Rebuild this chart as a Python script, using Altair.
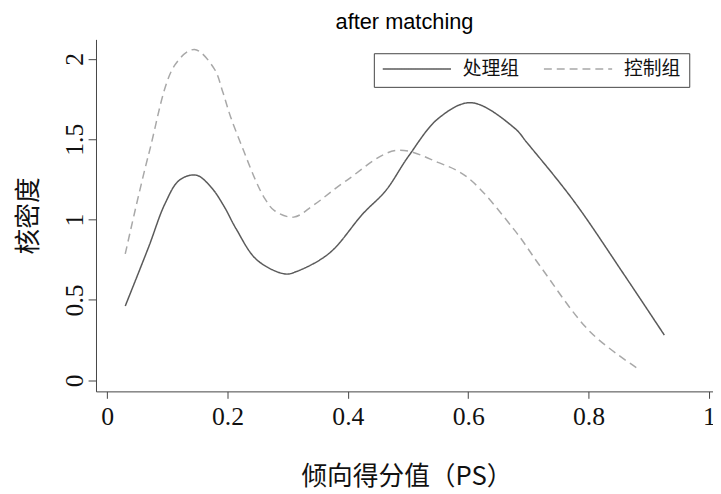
import altair as alt
import pandas as pd

groups = ["处理组", "控制组"]

ps_treat = [0.030, 0.069, 0.096, 0.120, 0.148, 0.173, 0.195, 0.214, 0.249, 0.296, 0.315,
            0.369, 0.425, 0.463, 0.501, 0.551, 0.605, 0.677, 0.698, 0.775, 0.857, 0.926]
dens_treat = [0.462, 0.830, 1.098, 1.245, 1.276, 1.200, 1.077, 0.944, 0.748, 0.661, 0.677,
              0.790, 1.036, 1.180, 1.395, 1.631, 1.727, 1.569, 1.477, 1.118, 0.669, 0.281]

ps_ctrl = [0.030, 0.069, 0.112, 0.145, 0.178, 0.192, 0.205, 0.227, 0.247, 0.262, 0.278,
           0.310, 0.342, 0.397, 0.480, 0.551, 0.599, 0.677, 0.720, 0.803, 0.882]
dens_ctrl = [0.786, 1.407, 1.959, 2.058, 1.938, 1.795, 1.640, 1.426, 1.241, 1.130, 1.055,
             1.015, 1.087, 1.241, 1.430, 1.354, 1.262, 0.934, 0.708, 0.300, 0.072]

x_ticks = [0, 0.2, 0.4, 0.6, 0.8, 1]
y_ticks = [0, 0.5, 1, 1.5, 2]

df = pd.concat([
    pd.DataFrame({"ps": ps_treat, "dens": dens_treat, "group": groups[0]}),
    pd.DataFrame({"ps": ps_ctrl, "dens": dens_ctrl, "group": groups[1]}),
])

serif = "Liberation Serif"
cjk = "Noto Sans CJK SC"

chart = alt.Chart(df).mark_line(strokeWidth=1.5, interpolate="catmull-rom").encode(
    x=alt.X("ps:Q",
            scale=alt.Scale(domain=[-0.0186, 1.0069], nice=False, zero=False),
            axis=alt.Axis(values=x_ticks, format="~g", title="倾向得分值（PS）",
                          tickSize=7, labelPadding=5, labelFont=serif, labelFontSize=26,
                          labelFlush=False,
                          titleFont=cjk, titleFontSize=26, titleFontWeight="normal",
                          titleBaseline="middle", titleAlign="center",
                          titleX=314, titleY=86)),
    y=alt.Y("dens:Q",
            scale=alt.Scale(domain=[-0.0695, 2.121], nice=False, zero=False),
            axis=alt.Axis(values=y_ticks, format="~g", title="核密度",
                          tickSize=8, labelPadding=6, labelFont=serif, labelFontSize=26,
                          labelAngle=270, labelAlign="center", labelBaseline="alphabetic",
                          labelFlush=False,
                          titleFont=cjk, titleFontSize=26, titleFontWeight="normal",
                          titleAngle=270, titleBaseline="middle", titleAlign="center",
                          titleX=-68, titleY=178)),
    color=alt.Color("group:N",
                    scale=alt.Scale(domain=groups, range=["#5a5a5a", "#a8a8a8"]),
                    legend=alt.Legend(title=None)),
    strokeDash=alt.StrokeDash("group:N",
                              scale=alt.Scale(domain=groups, range=[[1, 0], [8, 5]]),
                              legend=alt.Legend(title=None)),
).properties(
    width=624, height=356,
    autosize="none",
    padding={"left": 89, "top": 29, "right": 0, "bottom": 99},
    title=alt.TitleParams("after matching", font="Liberation Sans", fontSize=22,
                          fontWeight="normal", color="#000", anchor="middle",
                          baseline="alphabetic", offset=9, dy=20),
).configure_view(
    strokeWidth=0
).configure_axis(
    grid=False, domainColor="#444", tickColor="#444", labelColor="#111",
    titleColor="#111", domainWidth=1, tickWidth=1
).configure_legend(
    orient="none", legendX=281, legendY=14, direction="horizontal",
    strokeColor="#444", padding=8, symbolType="stroke", symbolSize=4761,
    symbolStrokeWidth=1.5, clipHeight=16, labelFont=cjk, labelFontSize=19,
    labelColor="#111", labelOffset=11, columnPadding=23, fillColor="#fff"
)

chart.save("out.html", embed_options={"renderer": "svg", "actions": False})
